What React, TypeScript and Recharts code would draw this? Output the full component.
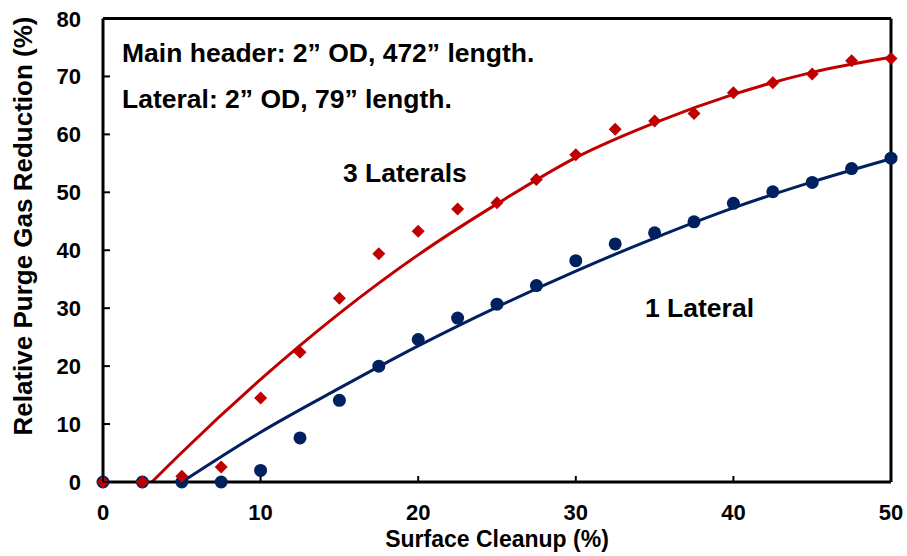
import React from 'react';
import { ComposedChart, Line, Scatter, XAxis, YAxis, ReferenceLine } from 'recharts';

// Surface cleanup levels (%)
const cleanup = [0, 2.5, 5, 7.5, 10, 12.5, 15, 17.5, 20, 22.5, 25, 27.5, 30, 32.5, 35, 37.5, 40, 42.5, 45, 47.5, 50];

// Measured relative purge gas reduction (%)
const threeLaterals = [0, 0, 1.0, 2.6, 14.5, 22.4, 31.7, 39.4, 43.3, 47.1, 48.2, 52.2, 56.5, 60.9, 62.3, 63.6, 67.2, 68.9, 70.4, 72.7, 73.1];
const oneLateral = [0, 0, 0, 0, 2.0, 7.6, 14.1, 20.0, 24.6, 28.3, 30.7, 33.9, 38.2, 41.1, 43.0, 44.9, 48.1, 50.1, 51.7, 54.1, 55.9];

// Fitted trend curves
const threeFitX = [3.1, 5, 10, 15, 20, 25, 30, 35, 40, 45, 50];
const threeFitY = [0, 5.1, 17.7, 29.1, 39.2, 48.0, 56.0, 62.0, 66.9, 70.7, 73.3];
const oneFitX = [5, 10, 15, 20, 25, 30, 35, 40, 45, 50];
const oneFitY = [0, 8.6, 16.2, 23.5, 30.2, 36.4, 42.1, 47.3, 51.8, 55.8];

const xTicks = [0, 10, 20, 30, 40, 50];
const yTicks = [0, 10, 20, 30, 40, 50, 60, 70, 80];

const RED = '#C00000';
const NAVY = '#002060';
const FONT = '"Liberation Sans", Arial, sans-serif';

const threePts = cleanup.map((x, i) => ({ x, y: threeLaterals[i] }));
const onePts = cleanup.map((x, i) => ({ x, y: oneLateral[i] }));
const threeFit = threeFitX.map((x, i) => ({ x, y: threeFitY[i] }));
const oneFit = oneFitX.map((x, i) => ({ x, y: oneFitY[i] }));

const Diamond = (props: any) => {
  const { cx, cy } = props;
  const r = 6.5;
  return <path d={`M${cx},${cy - r}L${cx + r},${cy}L${cx},${cy + r}L${cx - r},${cy}Z`} fill={RED} />;
};

const Dot = (props: any) => {
  const { cx, cy } = props;
  return <circle cx={cx} cy={cy} r={6.5} fill={NAVY} />;
};

const YTick = (props: any) => {
  const { x, y, payload } = props;
  return (
    <g>
      <line x1={x + 22} x2={x + 29} y1={y} y2={y} stroke="#000" strokeWidth={2} />
      <text x={x} y={y + 8} textAnchor="end" fontFamily={FONT} fontWeight="bold" fontSize={22} fill="#000">
        {payload.value}
      </text>
    </g>
  );
};

const XTick = (props: any) => {
  const { x, y, payload } = props;
  return (
    <g>
      <line x1={x} x2={x} y1={y} y2={y - 6} stroke="#000" strokeWidth={2} />
      <text x={x} y={y + 38} textAnchor="middle" fontFamily={FONT} fontWeight="bold" fontSize={22} fill="#000">
        {payload.value}
      </text>
    </g>
  );
};

const noteStyle = { fontFamily: FONT, fontWeight: 'bold' as const, fontSize: 26.5, fill: '#000' };

export default function App() {
  return (
    <div style={{ position: 'absolute', left: 0, top: 0, background: '#fff' }}>
      <ComposedChart width={907} height={556} margin={{ top: 18.5, right: 16, bottom: 34, left: 0 }}>
        <XAxis
          type="number"
          dataKey="x"
          domain={[0, 50]}
          ticks={xTicks}
          height={40}
          tickSize={0}
          tickMargin={0}
          tickLine={false}
          tick={<XTick />}
          axisLine={{ stroke: '#000', strokeWidth: 3 }}
          label={{
            content: () => (
              <text x={497} y={547} textAnchor="middle" fontFamily={FONT} fontWeight="bold" fontSize={23} fill="#000">
                Surface Cleanup (%)
              </text>
            ),
          }}
        />
        <YAxis
          type="number"
          dataKey="y"
          domain={[0, 80]}
          ticks={yTicks}
          width={103}
          tickSize={0}
          tickMargin={22}
          tickLine={false}
          tick={<YTick />}
          axisLine={{ stroke: '#000', strokeWidth: 3 }}
          label={{
            content: () => (
              <text
                x={32}
                y={226}
                transform="rotate(-90, 32, 226)"
                textAnchor="middle"
                fontFamily={FONT}
                fontWeight="bold"
                fontSize={26}
                fill="#000"
              >
                Relative Purge Gas Reduction (%)
              </text>
            ),
          }}
        />
        <ReferenceLine y={80} stroke="#000" strokeWidth={3} ifOverflow="visible" />
        <ReferenceLine x={50} stroke="#000" strokeWidth={3} ifOverflow="visible" />
        <Line data={oneFit} dataKey="y" type="monotone" stroke={NAVY} strokeWidth={3} dot={false} activeDot={false} isAnimationActive={false} />
        <Line data={threeFit} dataKey="y" type="monotone" stroke={RED} strokeWidth={3} dot={false} activeDot={false} isAnimationActive={false} />
        <Scatter data={onePts} dataKey="y" shape={<Dot />} isAnimationActive={false} />
        <Scatter data={threePts} dataKey="y" shape={<Diamond />} isAnimationActive={false} />
        <text x={122} y={62} {...noteStyle}>Main header: 2” OD, 472” length.</text>
        <text x={122} y={108} {...noteStyle}>Lateral: 2” OD, 79” length.</text>
        <text x={343} y={182} {...noteStyle}>3 Laterals</text>
        <text x={645} y={317} {...noteStyle}>1 Lateral</text>
      </ComposedChart>
    </div>
  );
}
